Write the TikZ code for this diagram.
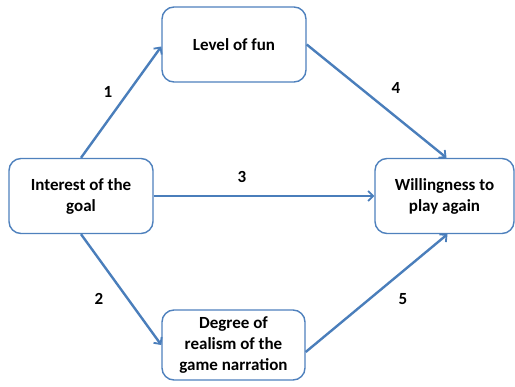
\documentclass[tikz,border=0pt]{standalone}
\usepackage{fontspec}
\setmainfont{Carlito}
\usetikzlibrary{arrows.meta, positioning}
\definecolor{BoxBlue}{HTML}{4F81BD}
\definecolor{ArrowBlue}{HTML}{4A7EBB}

\tikzset{
  factor/.style={draw=BoxBlue, line width=1.4pt, rounded corners=12pt, fill=white,
    align=center, inner sep=2pt, font=\fontsize{17}{21}\selectfont\bfseries},
  link/.style={draw=ArrowBlue, line width=2.4pt, -{Straight Barb[length=5pt, width=10pt, line width=1.8pt]}},
  linklabel/.style={font=\fontsize{17}{19}\selectfont\bfseries}
}

\begin{document}
\begin{tikzpicture}[x=1pt, y=-1pt]
                \useasboundingbox (0,0) rectangle (515,387);

                % Boxes
                \node[factor, minimum width=144pt, minimum height=75pt] (interest) at (81,196) {Interest of the\\goal};
                \node[factor, minimum width=144pt, minimum height=75pt] (fun) at (234,44.5) {Level of fun};
                \node[factor, minimum width=139pt, minimum height=75pt] (again) at (444.5,196) {Willingness to\\play again};
                \node[factor, minimum width=143pt, minimum height=70pt] (realism) at (233.5,345) {Degree of\\realism of the\\game narration};

                % Paths between boxes
                \draw[link] (interest.north) -- ([yshift=-2pt]fun.west);
                \draw[link] (interest.south) -- (realism.west);
                \draw[link] (interest.east) -- (again.west);
                \draw[link] (fun.east) -- ([xshift=2pt]again.north);
                \draw[link] ([yshift=-7pt]realism.east) -- ([xshift=3pt]again.south);

                % Path numbers
                \node[linklabel] (n1) at (108,92) {1};
                \node[linklabel] (n2) at (99,299) {2};
                \node[linklabel] (n3) at (242,177) {3};
                \node[linklabel] (n4) at (396,88) {4};
                \node[linklabel] (n5) at (403,299) {5};
            \end{tikzpicture}
\end{document}
